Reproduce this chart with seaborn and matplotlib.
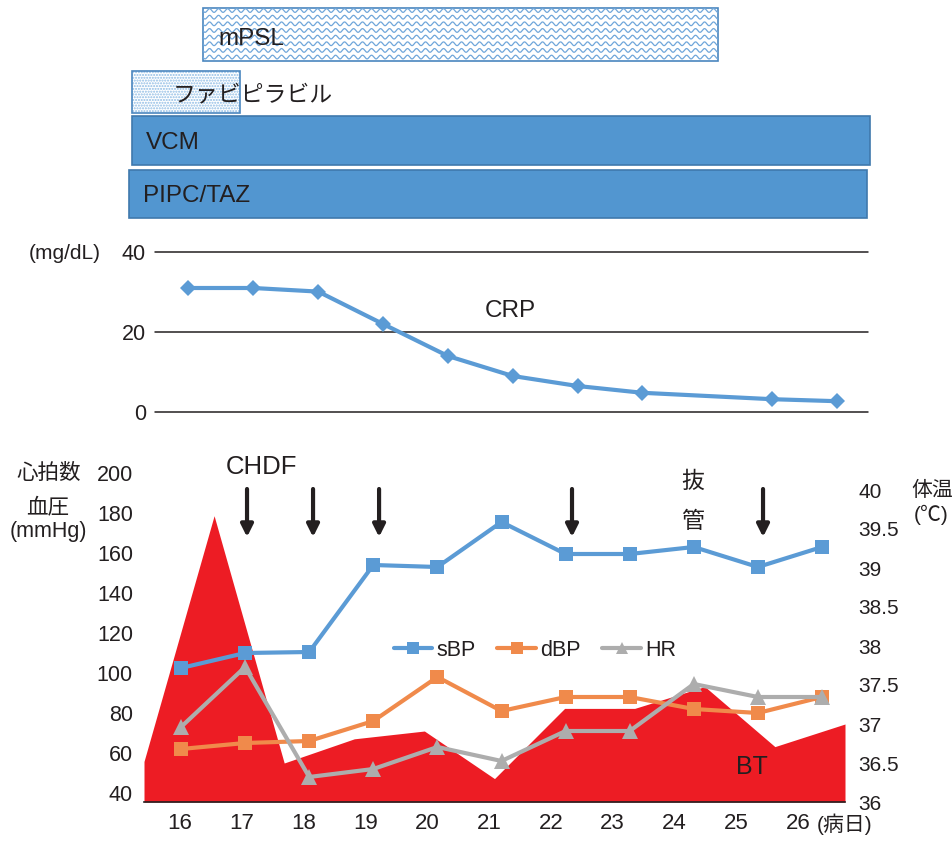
"""
Clinical course chart: drugs given, CRP, blood pressure / heart rate and body temperature
"""
import numpy as np
import pandas as pd
import matplotlib
matplotlib.use('Agg')
import matplotlib.pyplot as plt
import seaborn as sns

# values
days = [16, 17, 18, 19, 20, 21, 22, 23, 24, 25, 26]

drugs = ['mPSL', 'ファビピラビル', 'VCM', 'PIPC/TAZ']
drug_start = [16.34, 15.24, 15.24, 15.19]
drug_end = [24.38, 16.92, 26.75, 26.70]

crp = [31.0, 31.0, 30.1, 22.0, 14.0, 9.0, 6.5, 4.8, np.nan, 3.2, 2.7]

sbp = [102.5, 110, 110.5, 154, 153, 175.5, 159.5, 159.5, 163, 153, 163]
dbp = [62, 65, 66, 76, 98, 81, 88, 88, 82, 80, 88]
hr = [73, 103, 48, 52, 63, 56, 71, 71, 94.5, 88, 88]

bt = [36.52, 39.67, 36.5, 36.81, 36.91, 36.3, 37.2, 37.2, 37.48, 36.71, 37.0]

arrow_days = [17.03, 18.06, 19.09, 22.1, 25.08]

# colours
INK = '#231f20'
BLUE = '#5b9bd5'
ORANGE = '#f08a4b'
GRAY = '#adadad'
RED = '#ed1c24'
BAR = '#5296d0'
BAR_EDGE = '#3f79ad'

sns.set_style('white')
plt.rcParams['font.family'] = ['Liberation Sans', 'Noto Sans CJK JP']
plt.rcParams['text.color'] = INK
plt.rcParams['xtick.color'] = INK
plt.rcParams['ytick.color'] = INK
plt.rcParams['hatch.linewidth'] = 1.0

W, H = 953, 841
fig = plt.figure(figsize=(W / 100, H / 100), dpi=100)


def box(x0, y0, x1, y1):
    # pixel box (top-left origin) -> figure fraction rect
    return [x0 / W, 1 - y1 / H, (x1 - x0) / W, (y1 - y0) / H]


def ftext(x, y, s, **kw):
    fig.text(x / W, 1 - y / H, s, ha=kw.pop('ha', 'center'), va='center', **kw)


# day -> pixel mapping of the lower chart (used by the drug bars too)
D0, PXD = 181, 64.1


def day_lim(px0, px1, d0=D0, pxd=PXD):
    return 16 + (px0 - d0) / pxd, 16 + (px1 - d0) / pxd


# ---------------- drug bars ----------------
ax_bar = fig.add_axes(box(0, 0, W, 230))
ax_bar.set_xlim(*day_lim(0, W))
ax_bar.set_ylim(3.677, -0.648)
ax_bar.axis('off')

row_y = [0, 1.08, 2, 3]
heights = [1.0, 0.79, 0.92, 0.9]
text_pad = [(11, -3), (29, -2), (9.5, -1.5), (10, -1.5)]
for i, (name, s, e) in enumerate(zip(drugs, drug_start, drug_end)):
    y = row_y[i]
    if i == 0:
        b = ax_bar.barh(y, e - s, left=s, height=heights[i], color='white',
                        edgecolor='#4a86bf', lw=1.2)[0]
        xs = np.linspace(s, e, 1500)
        period = 9 / PXD
        for yr in np.arange(y - heights[i] / 2 + 0.05, y + heights[i] / 2, 0.125):
            ln, = ax_bar.plot(xs, yr + 0.035 * np.sin(2 * np.pi * (xs - s) / period),
                              color='#6fa6da', lw=0.9)
            ln.set_clip_path(b)
    elif i == 1:
        ax_bar.barh(y, e - s, left=s, height=heights[i], color='white',
                    edgecolor='#8dbbe4', hatch='......', lw=0.01)
        ax_bar.barh(y, e - s, left=s, height=heights[i], fill=False,
                    edgecolor='#4a86bf', lw=1.2)
    else:
        ax_bar.barh(y, e - s, left=s, height=heights[i], color=BAR,
                    edgecolor=BAR_EDGE, lw=1.2)
    ax_bar.annotate(name, xy=(s, y), xytext=text_pad[i], textcoords='offset points',
                    ha='left', va='center', fontsize=17.5 if i != 1 else 16.5, color=INK)

# ---------------- CRP ----------------
ax_crp = fig.add_axes(box(155, 252, 868, 412))
df_crp = pd.DataFrame({'day': days, 'crp': crp}).dropna()
sns.lineplot(data=df_crp, x='day', y='crp', ax=ax_crp, color=BLUE, lw=3,
             marker='D', markersize=8, markeredgewidth=0, markeredgecolor=BLUE)
ax_crp.set_xlim(*day_lim(155, 868, 188.5, 64.85))
ax_crp.set_ylim(0, 40)
ax_crp.set_yticks([0, 20, 40])
for v in [0, 20, 40]:
    ax_crp.axhline(v, color=INK, lw=1.1, clip_on=False, zorder=0)
ax_crp.set_xticks([])
ax_crp.tick_params(axis='y', length=0, pad=6.5, labelsize=15.5)
ax_crp.set_xlabel('')
ax_crp.set_ylabel('')
sns.despine(ax=ax_crp, left=True, bottom=True)
ftext(65, 253, '(mg/dL)', fontsize=15)
ftext(510, 311, 'CRP', fontsize=17.5)

# ---------------- body temperature (area) ----------------
ax_bt = fig.add_axes(box(144, 473, 845, 802))
bt_x = np.arange(len(bt))
ax_bt.fill_between(bt_x, bt, 36, color=RED, lw=0)
ax_bt.set_xlim(0, len(bt) - 1)
ax_bt.set_ylim(36, 36 + 329 / 78)
ax_bt.set_yticks(np.arange(36, 40.01, 0.5))
ax_bt.set_yticklabels([f'{v:g}' for v in np.arange(36, 40.01, 0.5)])
ax_bt.yaxis.tick_right()
ax_bt.tick_params(axis='y', length=0, pad=9.5, labelsize=15)
ax_bt.set_xticks(bt_x)
ax_bt.set_xticklabels([])
ax_bt.tick_params(axis='x', which='major', direction='out', length=4, width=1, color=INK)
lab_pos = [(180 + 61.8 * k - 144) / 70.1 for k in range(len(days))]
ax_bt.set_xticks(lab_pos, minor=True)
ax_bt.set_xticklabels([str(d) for d in days], minor=True)
ax_bt.tick_params(axis='x', which='minor', length=0, pad=8, labelsize=16)
for side in ['left', 'right', 'top']:
    ax_bt.spines[side].set_visible(False)
ax_bt.spines['bottom'].set_color(INK)
ax_bt.spines['bottom'].set_linewidth(1.2)

# ---------------- blood pressure / heart rate ----------------
ax_bp = fig.add_axes(box(144, 473, 845, 802))
ax_bp.patch.set_visible(False)
series = [('sBP', sbp, BLUE, 's', 10), ('dBP', dbp, ORANGE, 's', 10), ('HR', hr, GRAY, '^', 11)]
for name, vals, col, mk, ms in series:
    sns.lineplot(x=days, y=vals, ax=ax_bp, color=col, lw=3, marker=mk, markersize=ms,
                 markeredgewidth=0, markeredgecolor=col, label=name)
ax_bp.set_xlim(*day_lim(144, 845))
ax_bp.set_ylim(200 - (802 - 473) / 2, 200)
ax_bp.set_yticks(range(40, 201, 20))
ax_bp.set_xticks([])
ax_bp.tick_params(axis='y', length=0, pad=8, labelsize=15.5)
for side in ax_bp.spines:
    ax_bp.spines[side].set_visible(False)
ax_bp.legend(loc='center', bbox_to_anchor=((535 - 144) / 701, (802 - 650) / 329),
             ncol=3, frameon=False, fontsize=15.5, handlelength=1.8, handletextpad=0.2,
             columnspacing=1.0, markerscale=0.85)

for d in arrow_days:
    ax_bp.annotate('', xy=(d, 168), xytext=(d, 192),
                   arrowprops=dict(arrowstyle='-|>', color=INK, lw=3, mutation_scale=18,
                                   shrinkA=0, shrinkB=0))

ftext(49, 473, '心拍数', fontsize=15.5)
ftext(48, 508, '血圧', fontsize=15.5)
ftext(48, 532, '(mmHg)', fontsize=15.5)
ftext(932, 490, '体温', fontsize=15)
ftext(931, 515, '(℃)', fontsize=15)
ftext(262, 467, 'CHDF', fontsize=18.5)
ftext(693, 481, '抜', fontsize=16.5)
ftext(693, 521, '管', fontsize=16.5)
ftext(752, 767, 'BT', fontsize=18)
ftext(817, 824, '(病日)', fontsize=15, ha='left')

fig.savefig('out.png', dpi=100)
